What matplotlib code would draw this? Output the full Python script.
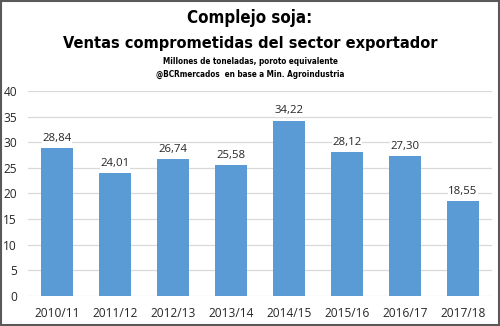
import matplotlib.pyplot as plt
from matplotlib.patches import Rectangle

campanias = ["2010/11", "2011/12", "2012/13", "2013/14", "2014/15", "2015/16", "2016/17", "2017/18"]
ventas = [28.84, 24.01, 26.74, 25.58, 34.22, 28.12, 27.30, 18.55]
yticks = [0, 5, 10, 15, 20, 25, 30, 35, 40]

titulo1 = "Complejo soja:"
titulo2 = "Ventas comprometidas del sector exportador"
sub1 = "Millones de toneladas, poroto equivalente"
sub2 = "@BCRmercados  en base a Min. Agroindustria"

plain = ["Open Sans", "DejaVu Sans"]
cond = ["DejaVu Sans"]

fig = plt.figure(figsize=(5, 3.26), dpi=100, facecolor="white")
ax = fig.add_axes([0.056, 0.092, 0.928, 0.629])

x = range(len(campanias))
ax.bar(x, ventas, width=0.55, color="#5B9BD5", zorder=3)
for i, v in zip(x, ventas):
    lbl = f"{v:.2f}".replace(".", ",")
    ax.text(i, v + 0.8, lbl, ha="center", va="bottom", fontsize=8.2,
            family=plain, color="#262626", zorder=4,
            bbox=dict(facecolor="white", edgecolor="none", pad=0.5))

ax.set_xlim(-0.5, len(campanias) - 0.5)
ax.set_ylim(0, 40)
ax.set_yticks(yticks)
ax.set_xticks(list(x))
ax.set_xticklabels(campanias)
ax.grid(axis="y", color="#D9D9D9", linewidth=0.9, zorder=0)
for s in ax.spines.values():
    s.set_visible(False)
ax.tick_params(length=0, labelsize=8.6, colors="#262626")
ax.tick_params(axis="x", pad=8)
ax.tick_params(axis="y", pad=8)
for t in ax.get_xticklabels() + ax.get_yticklabels():
    t.set_family(plain)

fig.text(0.5, 0.945, titulo1, ha="center", va="center", fontsize=12.2,
         fontweight="bold", family=cond, fontstretch="condensed")
fig.text(0.5, 0.868, titulo2, ha="center", va="center", fontsize=11.7,
         fontweight="bold", family=cond, fontstretch="condensed")
fig.text(0.5, 0.81, sub1, ha="center", va="center", fontsize=5.9,
         fontweight="bold", family=cond, fontstretch="condensed")
fig.text(0.5, 0.773, sub2, ha="center", va="center", fontsize=5.9,
         fontweight="bold", family=cond, fontstretch="condensed")

fig.patches.append(Rectangle((0.002, 0.003), 0.996, 0.994, transform=fig.transFigure,
                             fill=False, edgecolor="#595959", linewidth=1.5))

fig.savefig("out.png", dpi=100)
